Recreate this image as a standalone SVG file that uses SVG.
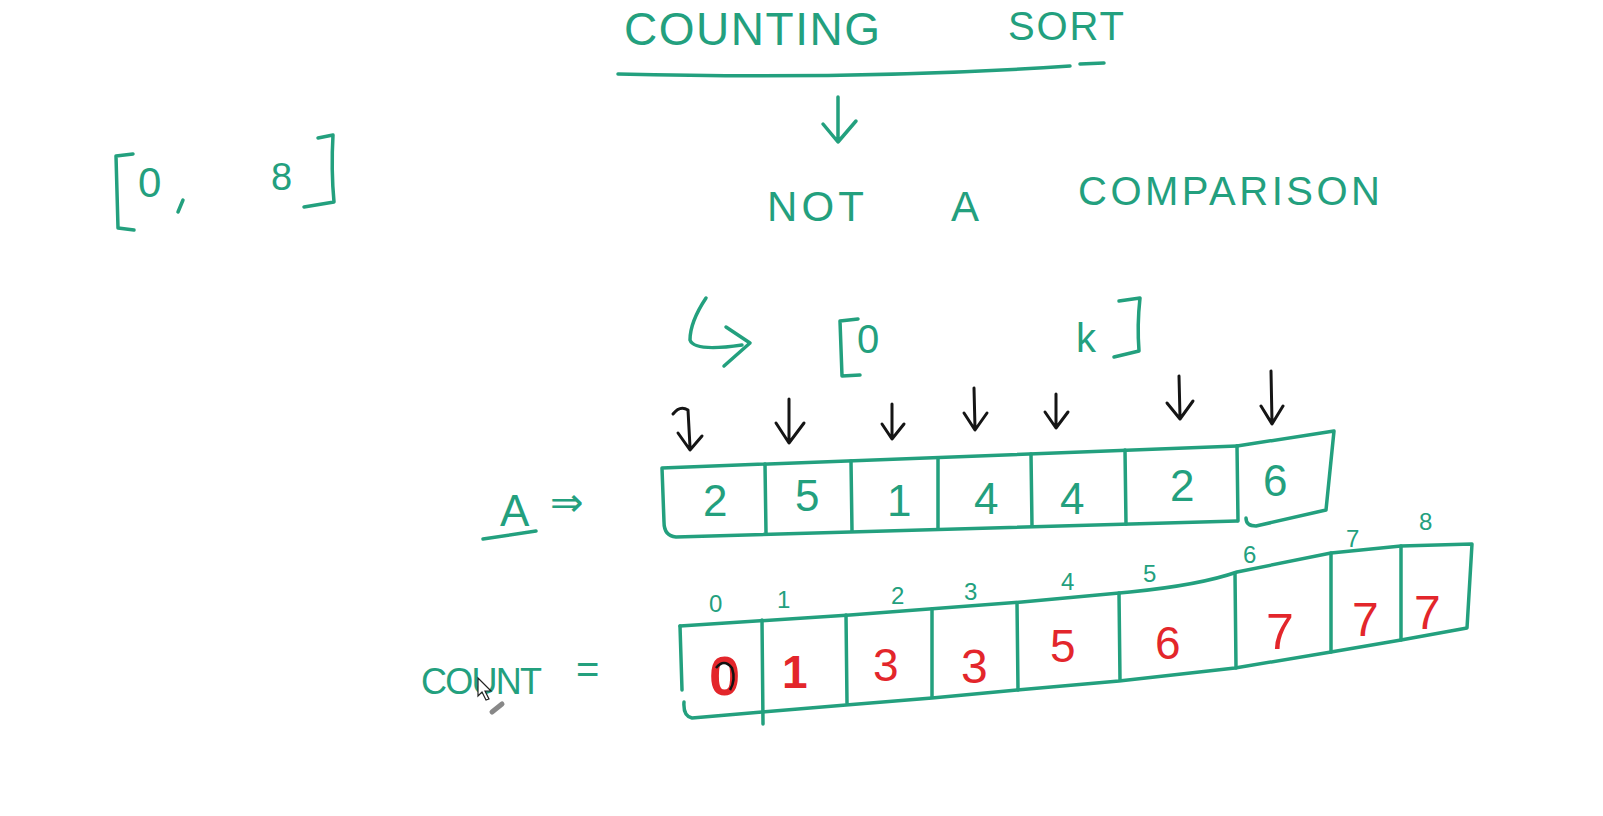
<svg xmlns="http://www.w3.org/2000/svg" width="1603" height="816" viewBox="0 0 1603 816">
<style>
.g{fill:none;stroke:#23a07e;stroke-width:3.5;stroke-linecap:round;stroke-linejoin:round}
.k{fill:none;stroke:#151515;stroke-width:3;stroke-linecap:round;stroke-linejoin:round}
.t{fill:#23a07e;font-family:"Liberation Sans","DejaVu Sans",sans-serif}
.r{fill:#e3262b;font-family:"Liberation Sans","DejaVu Sans",sans-serif}
.ix{fill:#23a07e;font-family:"Liberation Sans",sans-serif;font-size:24px}
</style>
<rect width="1603" height="816" fill="#ffffff"/>

<g id="title">
<text class="t" x="624" y="45" font-size="46" textLength="256" lengthAdjust="spacing">COUNTING</text>
<text class="t" x="1008" y="40" font-size="40" textLength="116" lengthAdjust="spacing">SORT</text>
<path class="g" d="M618,74 Q860,80 1070,66 M1080,64 L1104,63"/>
</g>

<g id="range08">
<path class="g" d="M133,154 L116,156 L118,228 L134,230"/>
<path class="g" d="M318,138 L333,135 Q331,170 334,202 L304,207"/>
<text class="t" x="138" y="197" font-size="42">0</text>
<path class="g" d="M183,200 L178,212"/>
<text class="t" x="271" y="190" font-size="38">8</text>
</g>

<g id="notcomparison">
<path class="g" d="M838,97 L838,141 M823,124 L838,142 L856,121"/>
<text class="t" x="767" y="221" font-size="42" textLength="97" lengthAdjust="spacing">NOT</text>
<text class="t" x="951" y="221" font-size="42">A</text>
<text class="t" x="1078" y="205" font-size="40" textLength="302" lengthAdjust="spacing">COMPARISON</text>
</g>

<g id="range0k">
<path class="g" d="M706,298 Q690,322 690,340 Q694,352 742,345"/>
<path class="g" d="M726,327 L750,343 L724,366"/>
<path class="g" d="M858,319 L840,321 L842,376 L860,375"/>
<text class="t" x="857" y="353" font-size="40">0</text>
<text class="t" x="1076" y="352" font-size="40">k</text>
<path class="g" d="M1119,301 L1140,298 Q1137,325 1139,351 L1114,357"/>
</g>

<g id="pointers">
<path class="k" d="M673,414 Q680,405 688,410 L690,447 M678,433 L690,450 L702,436"/>
<path class="k" d="M789,399 L789,441 M776,423 L789,443 L804,423"/>
<path class="k" d="M892,404 L892,437 M882,424 L892,439 L904,424"/>
<path class="k" d="M974,388 L975,428 M964,413 L975,430 L987,413"/>
<path class="k" d="M1056,394 L1056,426 M1045,412 L1056,428 L1068,412"/>
<path class="k" d="M1179,376 L1180,417 M1167,403 L1180,419 L1193,401"/>
<path class="k" d="M1271,371 L1272,422 M1261,406 L1272,424 L1283,406"/>
</g>

<g id="arrayA">
<text class="t" x="500" y="526" font-size="44">A</text>
<path class="g" d="M483,539 L536,531"/>
<text class="t" x="550" y="516" font-size="40">⇒</text>
<path class="g" d="M662,468 L1237,446 M662,468 L664,522 Q664,536 676,537 L1237,521"/>
<path class="g" d="M765,464 L766,533 M851,461 L852,531 M938,458 L938,529 M1031,454 L1032,526 M1125,450 L1126,524 M1237,446 L1238,521"/>
<path class="g" d="M1237,446 L1334,431 L1326,510 L1256,526 Q1246,526 1246,518"/>
<text class="t" x="703" y="516" font-size="44">2</text>
<text class="t" x="795" y="511" font-size="44">5</text>
<text class="t" x="887" y="516" font-size="44">1</text>
<text class="t" x="974" y="514" font-size="44">4</text>
<text class="t" x="1060" y="514" font-size="44">4</text>
<text class="t" x="1170" y="501" font-size="44">2</text>
<text class="t" x="1263" y="496" font-size="44">6</text>
</g>

<g id="arrayCount">
<text class="t" x="421" y="694" font-size="36" textLength="121" lengthAdjust="spacing">COUNT</text>
<text class="t" x="576" y="683" font-size="40">=</text>
<path class="g" d="M680,626 L850,615 L1022,602 L1130,592 Q1200,585 1237,572 L1331,553 L1401,546 L1472,544 L1467,628 L1401,640 L1331,652 L1235,668 L1119,681 L1017,690 L932,698 L846,705 L762,712 L692,718 Q683,716 684,702"/>
<path class="g" d="M680,626 L682,690"/>
<path class="g" d="M762,620 L763,724 M846,615 L847,703 M932,609 L932,697 M1017,603 L1018,690 M1119,593 L1120,680 M1235,573 L1236,668 M1331,553 L1331,652 M1401,546 L1401,640"/>
<text class="ix" x="709" y="612">0</text>
<text class="ix" x="777" y="608">1</text>
<text class="ix" x="891" y="604">2</text>
<text class="ix" x="964" y="600">3</text>
<text class="ix" x="1061" y="590">4</text>
<text class="ix" x="1143" y="582">5</text>
<text class="ix" x="1243" y="563">6</text>
<text class="ix" x="1346" y="547">7</text>
<text class="ix" x="1419" y="530">8</text>
<text class="r" x="709" y="695" font-size="56" font-weight="bold">0</text>
<path d="M716,668 Q724,658 732,668 Q736,680 730,690" fill="none" stroke="#111" stroke-width="2.5"/>
<text class="r" x="782" y="688" font-size="46" font-weight="bold">1</text>
<text class="r" x="873" y="681" font-size="46">3</text>
<text class="r" x="961" y="683" font-size="48">3</text>
<text class="r" x="1050" y="662" font-size="46">5</text>
<text class="r" x="1155" y="659" font-size="46">6</text>
<text class="r" x="1266" y="649" font-size="50">7</text>
<text class="r" x="1352" y="636" font-size="48">7</text>
<text class="r" x="1414" y="629" font-size="48">7</text>
</g>

<g id="cursor">
<path d="M478,678 L478,696 L482,692 L486,700 L489,699 L485,691 L491,691 Z" fill="#ffffff" stroke="#222" stroke-width="1.2"/>
<path d="M492,712 L502,704" stroke="#888" stroke-width="5" stroke-linecap="round"/>
</g>
</svg>
